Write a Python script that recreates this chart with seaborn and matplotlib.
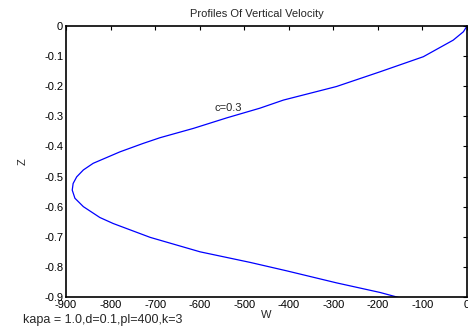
# profiles of vertical velocity, c=0.3
import numpy as np
import pandas as pd
import matplotlib
matplotlib.use("Agg")
import matplotlib.pyplot as plt
import seaborn as sns

# values (ordered from surface down)
z_vals = [0.0, -0.019, -0.047, -0.102, -0.152, -0.201, -0.246, -0.273,
          -0.305, -0.340, -0.371, -0.390, -0.418, -0.456, -0.478, -0.501,
          -0.523, -0.545, -0.572, -0.600, -0.636, -0.656, -0.702, -0.750,
          -0.785, -0.813, -0.853, -0.885, -0.903]
w_vals = [0, -8, -31, -98, -195, -293, -412, -465,
          -539, -614, -689, -727, -779, -839, -861, -876,
          -884, -886, -880, -861, -824, -794, -711, -599,
          -487, -405, -293, -195, -150]

x_ticks = [-900, -800, -700, -600, -500, -400, -300, -200, -100, 0]
y_ticks = [0, -0.1, -0.2, -0.3, -0.4, -0.5, -0.6, -0.7, -0.8, -0.9]

df = pd.DataFrame({"W": w_vals, "Z": z_vals})

sns.set_style("white")
plt.rcParams["font.family"] = ["Liberation Sans", "DejaVu Sans"]
plt.rcParams["font.size"] = 8

fig = plt.figure(figsize=(4.68, 3.27), dpi=100)
ax = fig.add_axes([66 / 468, 30 / 327, 401 / 468, 271 / 327])

sns.lineplot(data=df, x="W", y="Z", sort=False, color="blue", linewidth=0.9,
             ax=ax, estimator=None)

ax.set_xlim(-900, 0)
ax.set_ylim(-0.9, 0)
ax.set_xticks(x_ticks)
ax.set_xticklabels([str(t) for t in x_ticks])
ax.set_yticks(y_ticks)
ax.set_yticklabels(["0"] + [f"{t:.1f}" for t in y_ticks[1:]])
ax.tick_params(direction="in", length=3, width=0.8, top=True, right=True,
               labelsize=8, pad=2, colors="black")
for s in ax.spines.values():
    s.set_color("black")
    s.set_linewidth(1.2)

ax.text(0.475, 1.025, "Profiles Of Vertical Velocity", fontsize=8,
        ha="center", va="bottom", transform=ax.transAxes)
ax.set_xlabel("W", fontsize=8, labelpad=0)
ax.set_ylabel("Z", fontsize=8, labelpad=12)
ax.text(-566, -0.282, "c=0.3", fontsize=8, va="baseline")
fig.text(23 / 468, 1 - 320 / 327, "kapa = 1.0,d=0.1,pl=400,k=3", fontsize=9,
         va="center")

fig.savefig("out.png", dpi=100)
